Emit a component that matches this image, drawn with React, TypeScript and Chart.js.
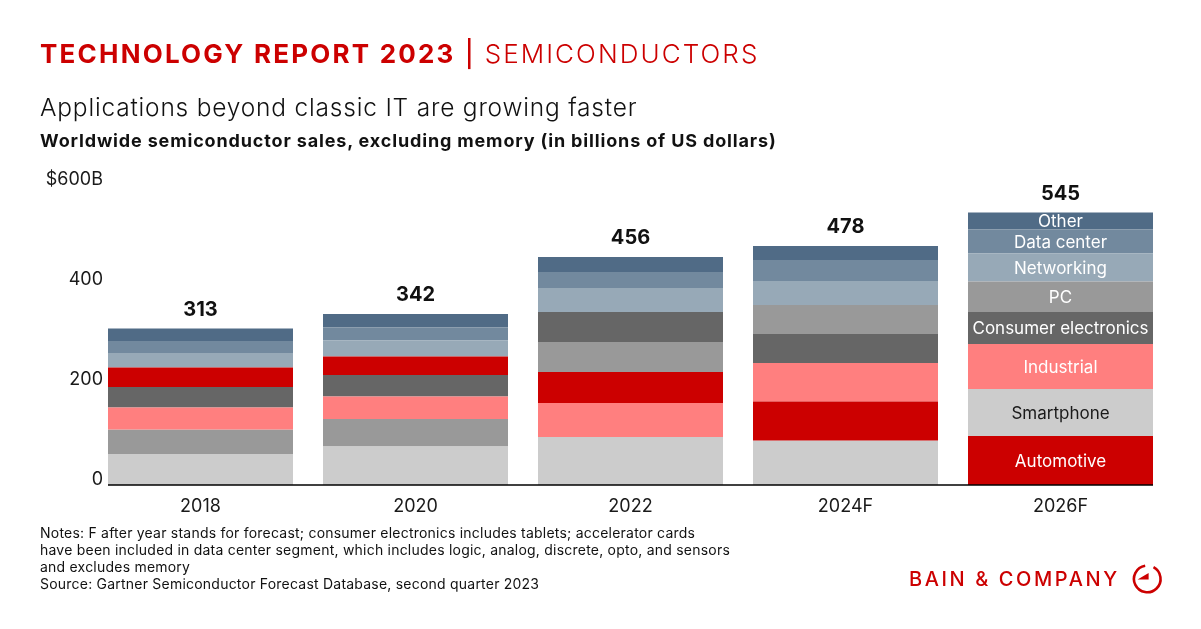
import React, { useEffect, useRef } from "react";
import { Chart, registerables } from "chart.js";

Chart.register(...registerables);

// ---------- data ----------
const years = ["2018", "2020", "2022", "2024F", "2026F"];
const totals = [313, 342, 456, 478, 545];
const segments = [
  "Automotive",
  "Smartphone",
  "Industrial",
  "Consumer electronics",
  "PC",
  "Networking",
  "Data center",
  "Other",
];
const automotive = [39, 37, 62, 78, 98];
const smartphone = [62, 77, 96, 89, 94];
const industrial = [44, 45, 68, 77, 90];
const consumerElectronics = [41, 43, 60, 58, 64];
const pc = [49, 55, 60, 58, 61];
const networking = [29, 32, 48, 48, 56];
const dataCenter = [24, 26, 32, 42, 48];
const other = [25, 27, 30, 28, 34];

// stacking order, bottom to top, for each year
const order2018 = ["Smartphone", "PC", "Industrial", "Consumer electronics", "Automotive", "Networking", "Data center", "Other"];
const order2020 = ["Smartphone", "PC", "Industrial", "Consumer electronics", "Automotive", "Networking", "Data center", "Other"];
const order2022 = ["Smartphone", "Industrial", "Automotive", "PC", "Consumer electronics", "Networking", "Data center", "Other"];
const order2024 = ["Smartphone", "Automotive", "Industrial", "Consumer electronics", "PC", "Networking", "Data center", "Other"];
const order2026 = ["Automotive", "Smartphone", "Industrial", "Consumer electronics", "PC", "Networking", "Data center", "Other"];

const yTicks = [0, 200, 400, 600];
const yTickLabels = ["0", "200", "400", "$600B"];

// ---------- styles ----------
const FONT = "Inter, 'Noto Sans', sans-serif";
const RED = "#CC0000";
const segColors: Record<string, string> = {
  Automotive: "#CC0000",
  Smartphone: "#CCCCCC",
  Industrial: "#FF7F7F",
  "Consumer electronics": "#666666",
  PC: "#999999",
  Networking: "#97A9B7",
  "Data center": "#72899E",
  Other: "#506B86",
};
const segLabelColors: Record<string, string> = {
  Smartphone: "#1a1a1a",
};

export default function App() {
  const canvasRef = useRef<HTMLCanvasElement | null>(null);

  useEffect(() => {
    const values: Record<string, number[]> = {
      Automotive: automotive,
      Smartphone: smartphone,
      Industrial: industrial,
      "Consumer electronics": consumerElectronics,
      PC: pc,
      Networking: networking,
      "Data center": dataCenter,
      Other: other,
    };
    const orders = [order2018, order2020, order2022, order2024, order2026];

    const datasets = segments.map((seg) => ({
      label: seg,
      backgroundColor: segColors[seg],
      borderWidth: 0,
      data: years.map((_, i) => {
        const ord = orders[i];
        let start = 0;
        for (const s of ord) {
          if (s === seg) break;
          start += values[s][i];
        }
        return [start, start + values[seg][i]];
      }),
    }));

    const labelsPlugin = {
      id: "labels",
      afterDatasetsDraw(chart: any) {
        const ctx = chart.ctx;
        const y = chart.scales.y;
        const meta0 = chart.getDatasetMeta(0);
        const first = meta0.data[0];
        const last = meta0.data[meta0.data.length - 1];
        const y0 = y.getPixelForValue(0);
        ctx.save();
        // baseline
        ctx.strokeStyle = "#000";
        ctx.lineWidth = 1.5;
        ctx.beginPath();
        ctx.moveTo(first.x - first.width / 2, y0);
        ctx.lineTo(last.x + last.width / 2, y0);
        ctx.stroke();

        // y tick labels
        ctx.fillStyle = "#1a1a1a";
        ctx.font = `18px ${FONT}`;
        ctx.textAlign = "right";
        ctx.textBaseline = "middle";
        yTicks.forEach((v, i) => {
          ctx.fillText(yTickLabels[i], 103, y.getPixelForValue(v) - 5);
        });

        // totals
        ctx.fillStyle = "#111";
        ctx.font = `bold 20px ${FONT}`;
        ctx.textAlign = "center";
        totals.forEach((t, i) => {
          const el = meta0.data[i];
          ctx.fillText(String(t), el.x, y.getPixelForValue(t) - 19);
        });

        // segment labels on last bar
        ctx.font = `17px ${FONT}`;
        const li = years.length - 1;
        segments.forEach((seg, di) => {
          const el = chart.getDatasetMeta(di).data[li];
          ctx.fillStyle = segLabelColors[seg] || "#ffffff";
          ctx.fillText(seg, el.x, (el.y + el.base) / 2 + 1);
        });
        ctx.restore();
      },
    };

    const chart = new Chart(canvasRef.current!, {
      type: "bar",
      data: { labels: years, datasets },
      options: {
        animation: false,
        responsive: false,
        devicePixelRatio: 1,
        layout: { padding: { left: 0, right: 33, top: 185, bottom: 104 } },
        plugins: { legend: { display: false }, tooltip: { enabled: false } },
        datasets: { bar: { categoryPercentage: 1, barPercentage: 185 / 215 } },
        scales: {
          x: {
            stacked: true,
            grid: { display: false, drawTicks: false },
            border: { display: false },
            ticks: { color: "#1a1a1a", font: { family: FONT, size: 18 }, padding: 11 },
            afterFit: (s: any) => {
              s.height = 40;
            },
          },
          y: {
            stacked: false,
            min: 0,
            max: 600,
            grid: { display: false, drawTicks: false },
            border: { display: false },
            afterBuildTicks: (s: any) => {
              s.ticks = yTicks.map((v) => ({ value: v }));
            },
            ticks: { display: false },
            afterFit: (s: any) => {
              s.width = 93;
            },
          },
        },
      },
      plugins: [labelsPlugin],
    });
    return () => chart.destroy();
  }, []);

  const abs = (top: number, left: number, size: number, extra: React.CSSProperties = {}): React.CSSProperties => ({
    position: "absolute",
    top,
    left,
    fontSize: size,
    lineHeight: `${size}px`,
    fontFamily: FONT,
    whiteSpace: "nowrap",
    margin: 0,
    ...extra,
  });

  return (
    <div style={{ position: "fixed", left: 0, top: 0, width: 1201, height: 629, background: "#fff", overflow: "hidden" }}>
      <canvas ref={canvasRef} width={1201} height={629} style={{ position: "absolute", left: 0, top: 0, width: 1201, height: 629 }} />
      <div style={abs(40.5, 40, 26, { color: RED })}>
        <span style={{ fontWeight: 700, letterSpacing: "0.085em" }}>TECHNOLOGY REPORT 2023</span>
        <span style={{ fontWeight: 500, margin: "0 11px 0 9px" }}>|</span>
        <span style={{ fontWeight: 300, letterSpacing: "0.08em" }}>SEMICONDUCTORS</span>
      </div>
      <div style={abs(95, 40, 24.5, { color: "#111", fontWeight: 300, letterSpacing: "0.8px" })}>
        Applications beyond classic IT are growing faster
      </div>
      <div style={abs(131.5, 40, 18, { color: "#111", fontWeight: 700, letterSpacing: "0.85px" })}>
        Worldwide semiconductor sales, excluding memory (in billions of US dollars)
      </div>
      <div style={abs(524, 40, 14, { color: "#111", lineHeight: "17px", letterSpacing: "0.22px" })}>
        Notes: F after year stands for forecast; consumer electronics includes tablets; accelerator cards
        <br />
        have been included in data center segment, which includes logic, analog, discrete, opto, and sensors
        <br />
        and excludes memory
        <br />
        Source: Gartner Semiconductor Forecast Database, second quarter 2023
      </div>
      <div style={abs(569.4, 909, 20, { color: RED, fontWeight: 500, letterSpacing: "0.13em" })}>BAIN &amp; COMPANY</div>
      <svg width={40} height={40} viewBox="0 0 40 40" style={{ position: "absolute", left: 1126.7, top: 558.7 }}>
        <path d="M 26.5 8.2 A 13.3 13.3 0 1 1 18.2 6.8" fill="none" stroke={RED} strokeWidth={2.6} />
        <polygon points="21.6,14 10.6,20.6 21.6,20.6" fill={RED} />
      </svg>
    </div>
  );
}
